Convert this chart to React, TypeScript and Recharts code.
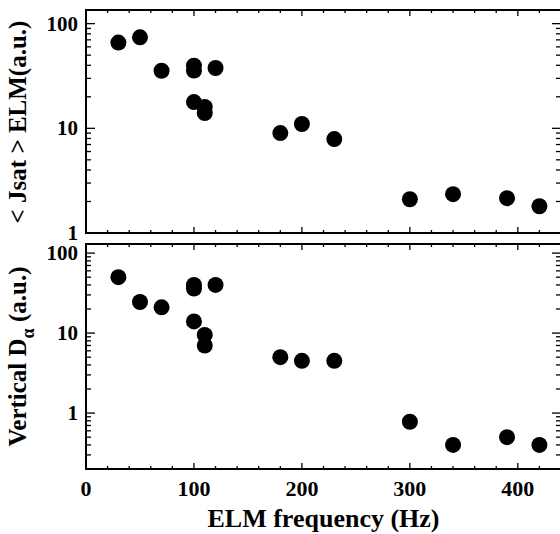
import React from 'react';
import { ScatterChart, Scatter, XAxis, YAxis, ReferenceArea } from 'recharts';

// ELM frequency (Hz) for each shot
const freqTop = [30, 50, 70, 100, 100, 100, 110, 110, 120, 180, 200, 230, 300, 340, 390, 420];
const jsatElm = [66, 74, 35.5, 39.6, 35.7, 17.8, 16, 14, 37.7, 9, 11, 7.9, 2.1, 2.35, 2.15, 1.8];

const freqBottom = [30, 50, 70, 100, 100, 100, 110, 110, 120, 180, 200, 230, 300, 340, 390, 420];
const dAlpha = [50, 24.5, 21, 40, 36, 14, 9.5, 7, 40, 5, 4.5, 4.5, 0.78, 0.4, 0.5, 0.4];

const xTicks = [0, 20, 40, 60, 80, 100, 120, 140, 160, 180, 200, 220, 240, 260, 280, 300, 320, 340, 360, 380, 400, 420, 440];
const xLabels = [0, 100, 200, 300, 400];

const yTicksTop = [1, 2, 3, 4, 5, 6, 7, 8, 9, 10, 20, 30, 40, 50, 60, 70, 80, 90, 100];
const yTicksBottom = [0.2, 0.3, 0.4, 0.5, 0.6, 0.7, 0.8, 0.9, 1, 2, 3, 4, 5, 6, 7, 8, 9, 10, 20, 30, 40, 50, 60, 70, 80, 90, 100];
const yLabels = [1, 10, 100];

const topData = freqTop.map((f, i) => ({ f, v: jsatElm[i] }));
const bottomData = freqBottom.map((f, i) => ({ f, v: dAlpha[i] }));

// layout
const CHART_W = 562;
const PLOT_LEFT = 86;
const PLOT_W = 475;
const TOP_H = 250; // svg is a bit taller than the panel so the "1" label is not clipped
const TOP_PLOT_H = 223;
const BOT_TOP = 240;
const BOT_H = 294;
const BOT_PLOT_H = 225;
const Y_MARGIN = 8;
const X_MARGIN = 27;
const FONT = '"Liberation Serif", "Times New Roman", serif';

const Dot = (p: any) => <circle cx={p.cx} cy={p.cy} r={8} fill="#000" />;

const makeYTick = () => (props: any) => {
  const { x, y, payload } = props;
  const v = payload.value;
  const major = yLabels.includes(v);
  const len = major ? 9 : 5;
  const ax = x + Y_MARGIN;
  const rx = ax + PLOT_W;
  return (
    <g>
      <line x1={ax} x2={ax + len} y1={y} y2={y} stroke="#000" strokeWidth={1.3} />
      <line x1={rx} x2={rx - len} y1={y} y2={y} stroke="#000" strokeWidth={1.3} />
      {major && (
        <text x={x} y={y} dy="0.34em" textAnchor="end" fontFamily={FONT} fontWeight="bold" fontSize={21} fill="#000">
          {v}
        </text>
      )}
    </g>
  );
};

const makeXTick = (plotH: number, showLabel: boolean) => (props: any) => {
  const { x, y, payload } = props;
  const v = payload.value;
  const major = xLabels.includes(v);
  const len = major ? 6 : 3;
  const by = y - X_MARGIN;
  const ty = by - plotH;
  return (
    <g>
      <line x1={x} x2={x} y1={by} y2={by - len} stroke="#000" strokeWidth={1.3} />
      <line x1={x} x2={x} y1={ty} y2={ty + len} stroke="#000" strokeWidth={1.3} />
      {showLabel && major && (
        <text x={x} y={y} textAnchor="middle" fontFamily={FONT} fontWeight="bold" fontSize={22} fill="#000">
          {v}
        </text>
      )}
    </g>
  );
};

const topTitle = () => (
  <text
    x={26}
    y={122}
    transform="rotate(-90, 26, 122)"
    textAnchor="middle"
    fontFamily={FONT}
    fontWeight="bold"
    fontSize={25}
    fill="#000"
  >
    {'< Jsat > ELM(a.u.)'}
  </text>
);

const bottomTitle = () => (
  <text
    x={26}
    y={116.5}
    transform="rotate(-90, 26, 116.5)"
    textAnchor="middle"
    fontFamily={FONT}
    fontWeight="bold"
    fontSize={25}
    fill="#000"
  >
    <tspan>Vertical D</tspan>
    <tspan dy={8} fontSize={18}>α</tspan>
    <tspan dy={-8}> (a.u.)</tspan>
  </text>
);

const xTitle = () => (
  <text
    x={PLOT_LEFT + PLOT_W / 2}
    y={287}
    textAnchor="middle"
    fontFamily={FONT}
    fontWeight="bold"
    fontSize={26}
    fill="#000"
  >
    ELM frequency (Hz)
  </text>
);

export default function App() {
  return (
    <div
      style={{
        position: 'absolute',
        left: 0,
        top: 0,
        width: 560,
        height: 534,
        overflow: 'hidden',
        background: '#fff',
      }}
    >
      <div style={{ position: 'absolute', left: 0, top: 0 }}>
        <ScatterChart
          width={CHART_W}
          height={TOP_H}
          margin={{ top: 10, right: CHART_W - PLOT_LEFT - PLOT_W, bottom: TOP_H - 10 - TOP_PLOT_H - 1, left: PLOT_LEFT - 76 }}
        >
          <XAxis
            type="number"
            dataKey="f"
            domain={[0, 440]}
            ticks={xTicks}
            interval={0}
            height={1}
            tickLine={false}
            axisLine={false}
            tickSize={0}
            tickMargin={X_MARGIN}
            tick={makeXTick(TOP_PLOT_H, false)}
            allowDataOverflow
          />
          <YAxis
            type="number"
            dataKey="v"
            scale="log"
            domain={[1, 135]}
            ticks={yTicksTop}
            interval={0}
            width={76}
            tickLine={false}
            axisLine={false}
            tickSize={0}
            tickMargin={Y_MARGIN}
            tick={makeYTick()}
            label={topTitle}
            allowDataOverflow
          />
          <ReferenceArea x1={0} x2={440} y1={1} y2={135} fill="none" stroke="#000" strokeWidth={2} />
          <Scatter data={topData} dataKey="v" fill="#000" shape={Dot} isAnimationActive={false} />
        </ScatterChart>
      </div>
      <div style={{ position: 'absolute', left: 0, top: BOT_TOP }}>
        <ScatterChart
          width={CHART_W}
          height={BOT_H}
          margin={{ top: 4, right: CHART_W - PLOT_LEFT - PLOT_W, bottom: 0, left: PLOT_LEFT - 76 }}
        >
          <XAxis
            type="number"
            dataKey="f"
            domain={[0, 440]}
            ticks={xTicks}
            interval={0}
            height={BOT_H - 4 - BOT_PLOT_H}
            tickLine={false}
            axisLine={false}
            tickSize={0}
            tickMargin={X_MARGIN}
            tick={makeXTick(BOT_PLOT_H, true)}
            label={xTitle}
            allowDataOverflow
          />
          <YAxis
            type="number"
            dataKey="v"
            scale="log"
            domain={[0.2, 130]}
            ticks={yTicksBottom}
            interval={0}
            width={76}
            tickLine={false}
            axisLine={false}
            tickSize={0}
            tickMargin={Y_MARGIN}
            tick={makeYTick()}
            label={bottomTitle}
            allowDataOverflow
          />
          <ReferenceArea x1={0} x2={440} y1={0.2} y2={130} fill="none" stroke="#000" strokeWidth={2} />
          <Scatter data={bottomData} dataKey="v" fill="#000" shape={Dot} isAnimationActive={false} />
        </ScatterChart>
      </div>
    </div>
  );
}
